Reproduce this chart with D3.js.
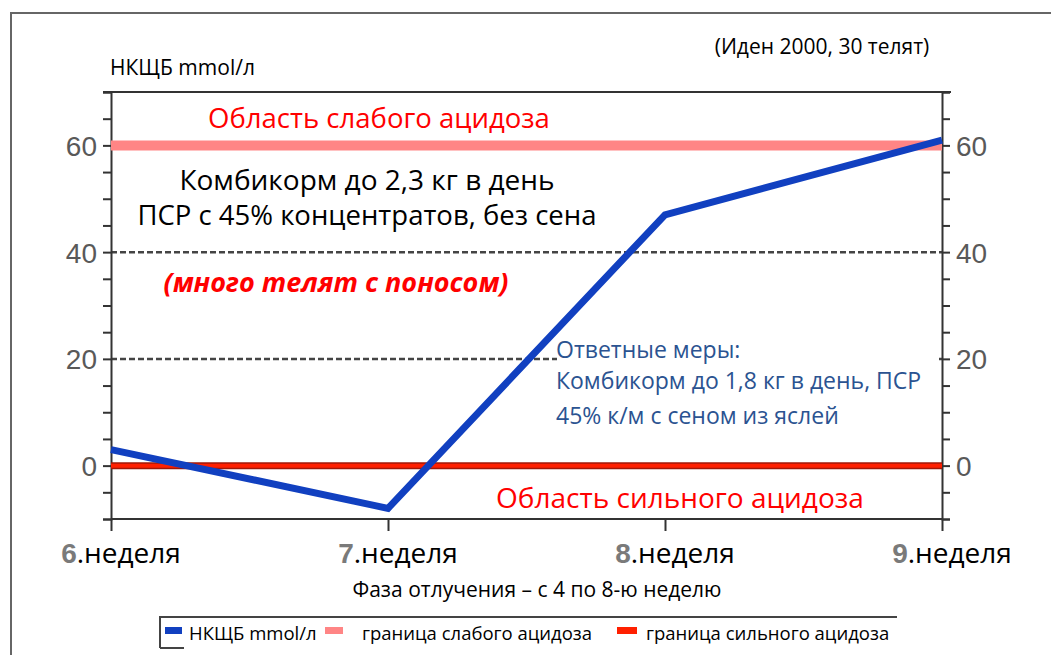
<!DOCTYPE html>
<html>
<head>
<meta charset="utf-8">
<script src="https://cdn.jsdelivr.net/npm/d3@7"></script>
<style>
  body { margin: 0; background: #fff; }
  svg { display: block; }
</style>
</head>
<body>
<script>
const WIDTH = 1051
const HEIGHT = 655

const weeks = [6, 7, 8, 9]
const nkshb = [3, -8, 47, 61]
const weakLimit = [60, 60, 60, 60]
const strongLimit = [0, 0, 0, 0]
const yLabels = [0, 20, 40, 60]
const yMinor = [-10, -5, 0, 5, 10, 15, 20, 25, 30, 35, 40, 45, 50, 55, 60, 65, 70]
const gridValues = [20, 40]
const legendNames = ['НКЩБ mmol/л', 'граница слабого ацидоза', 'граница сильного ацидоза']

const LEFT = 111
const RIGHT = 942
const TOP = 92
const BOTTOM = 519

const FONT = '"Open Sans", "Noto Sans", sans-serif'
const NUMFONT = '"Liberation Sans", Arial, sans-serif'

const svg = d3.select('body')
    .append('svg')
    .attr('width', WIDTH)
    .attr('height', HEIGHT)

// outer frame (only left and top edges are visible)
svg.append('path')
    .attr('d', `M11,${HEIGHT} L11,13 L${WIDTH},13`)
    .attr('fill', 'none')
    .attr('stroke', '#666')
    .attr('stroke-width', 2)

const x = d3.scaleLinear().domain([6, 9]).range([LEFT, RIGHT])
const y = d3.scaleLinear().domain([-10, 70]).range([BOTTOM, TOP])

// grid lines
svg.append('g').selectAll('line')
    .data(gridValues)
    .enter()
    .append('line')
    .attr('x1', LEFT).attr('x2', RIGHT)
    .attr('y1', d => y(d)).attr('y2', d => y(d))
    .attr('stroke', '#444')
    .attr('stroke-width', 2.5)
    .attr('stroke-dasharray', '6,3')

// frame top / bottom
svg.append('line').attr('x1', LEFT - 8).attr('x2', RIGHT + 9)
    .attr('y1', TOP).attr('y2', TOP).attr('stroke', '#333').attr('stroke-width', 2)
svg.append('line').attr('x1', LEFT).attr('x2', RIGHT)
    .attr('y1', BOTTOM).attr('y2', BOTTOM).attr('stroke', '#333').attr('stroke-width', 2)

// y axes
const fmt = d => yLabels.includes(d) ? d : ''
const axL = svg.append('g')
    .attr('transform', `translate(${LEFT},0)`)
    .call(d3.axisLeft(y).tickValues(yMinor).tickFormat(fmt).tickSize(8).tickPadding(6))
const axR = svg.append('g')
    .attr('transform', `translate(${RIGHT},0)`)
    .call(d3.axisRight(y).tickValues(yMinor).tickFormat(fmt).tickSize(8).tickPadding(6))
;[axL, axR].forEach(a => {
    a.select('.domain').attr('stroke', '#333').attr('stroke-width', 2)
    a.selectAll('.tick line').attr('stroke', '#333').attr('stroke-width', 2)
    a.selectAll('.tick text')
        .attr('font-family', NUMFONT)
        .attr('font-size', 28)
        .attr('fill', '#595959')
        .attr('dy', '0.36em')
})

// x axis
const axB = svg.append('g')
    .attr('transform', `translate(0,${BOTTOM})`)
    .call(d3.axisBottom(x).tickValues(weeks).tickFormat('').tickSize(12))
axB.select('.domain').remove()
axB.selectAll('.tick line').attr('stroke', '#333').attr('stroke-width', 2)

const xLab = svg.append('g').selectAll('text')
    .data(weeks)
    .enter()
    .append('text')
    .attr('x', d => x(d) + 10)
    .attr('y', 563)
    .attr('text-anchor', 'middle')
xLab.append('tspan')
    .attr('font-family', NUMFONT)
    .attr('font-size', 28)
    .attr('font-weight', 'bold')
    .attr('fill', '#7a7a7a')
    .text(d => d)
xLab.append('tspan')
    .attr('font-family', FONT)
    .attr('font-size', 28)
    .attr('fill', '#000')
    .text('.неделя')

// annotation boxes (hide grid behind the text)
svg.append('rect').attr('x', 557).attr('y', 328).attr('width', 380).attr('height', 108).attr('fill', '#fff')
svg.append('rect').attr('x', 425).attr('y', 478).attr('width', 512).attr('height', 38).attr('fill', '#fff')

// threshold lines
const line = d3.line().x((d, i) => x(weeks[i])).y(d => y(d))
svg.append('path')
    .datum(weakLimit)
    .attr('d', line)
    .attr('fill', 'none')
    .attr('stroke', '#ff8585')
    .attr('stroke-width', 10)
svg.append('path')
    .datum(strongLimit)
    .attr('d', line)
    .attr('fill', 'none')
    .attr('stroke', '#a01808')
    .attr('stroke-width', 7)
svg.append('path')
    .datum(strongLimit)
    .attr('d', line)
    .attr('fill', 'none')
    .attr('stroke', '#ff2000')
    .attr('stroke-width', 4)

// main series
svg.append('path')
    .datum(nkshb)
    .attr('d', line)
    .attr('fill', 'none')
    .attr('stroke', '#1140c0')
    .attr('stroke-width', 7)
    .attr('stroke-linejoin', 'miter')

const txt = (t, px, py, size, color, opts = {}) => svg.append('text')
    .attr('x', px).attr('y', py)
    .attr('font-family', FONT)
    .attr('font-size', size)
    .attr('fill', color)
    .attr('text-anchor', opts.anchor || 'start')
    .attr('font-weight', opts.weight || 'normal')
    .attr('font-style', opts.style || 'normal')
    .text(t)

txt('НКЩБ mmol/л', 110, 75, 21, '#000')
txt('(Иден 2000, 30 телят)', 822, 54, 21, '#000', { anchor: 'middle' })
txt('Область слабого ацидоза', 379, 128, 27.5, '#ff0000', { anchor: 'middle' })
txt('Комбикорм до 2,3 кг в день', 367, 190, 28, '#000', { anchor: 'middle' })
txt('ПСР с 45% концентратов, без сена', 367, 225, 27.5, '#000', { anchor: 'middle' })
txt('(много телят с поносом)', 336, 292, 27, '#ff0000', { anchor: 'middle', weight: 'bold', style: 'italic' })
txt('Ответные меры:', 556, 358, 23, '#2b5391')
txt('Комбикорм до 1,8 кг в день, ПСР', 556, 389, 23, '#2b5391')
txt('45% к/м с сеном из яслей', 556, 424, 23, '#2b5391')
txt('Область сильного ацидоза', 680, 508, 28, '#ff0000', { anchor: 'middle' })
txt('Фаза отлучения – с 4 по 8-ю неделю', 537, 597, 21, '#000', { anchor: 'middle' })

// legend
const leg = svg.append('g')
leg.append('path')
    .attr('d', 'M160,648 L160,617 L897,617')
    .attr('fill', 'none').attr('stroke', '#444').attr('stroke-width', 2)
leg.append('line').attr('x1', 160).attr('x2', 184).attr('y1', 648).attr('y2', 648)
    .attr('stroke', '#444').attr('stroke-width', 2)
const legColors = ['#1140c0', '#ff8585', '#ff2000']
const legX = [165, 325, 617]
const legW = [17, 18, 20]
const legTextX = [189, 362, 646]
legendNames.forEach((n, i) => {
    leg.append('rect')
        .attr('x', legX[i]).attr('y', 627).attr('width', legW[i]).attr('height', 7)
        .attr('fill', legColors[i])
    leg.append('text')
        .attr('x', legTextX[i]).attr('y', 640)
        .attr('font-family', FONT)
        .attr('font-size', 18.5)
        .attr('fill', '#000')
        .text(n)
})
</script>
</body>
</html>
